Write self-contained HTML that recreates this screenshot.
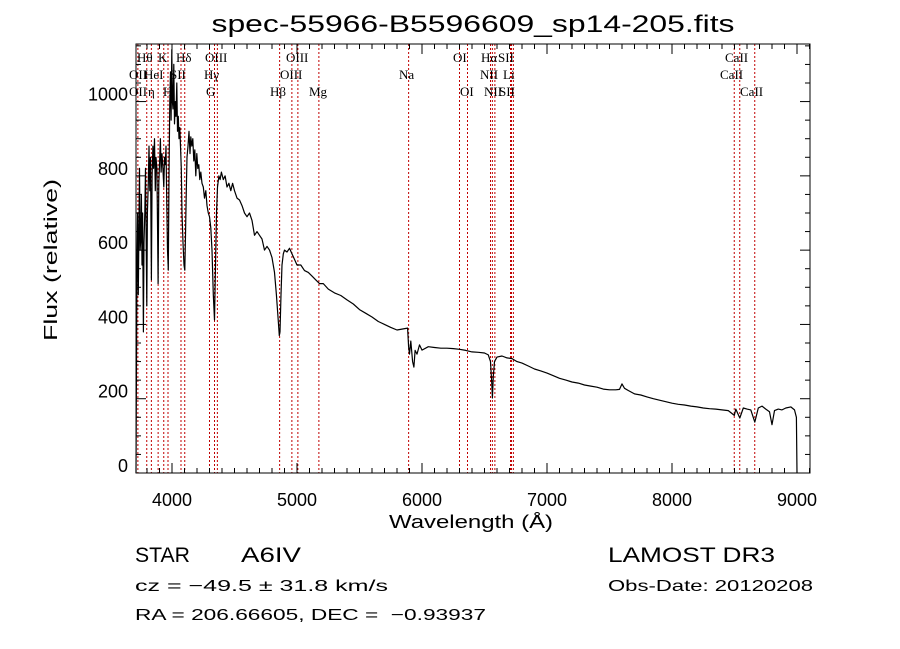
<!DOCTYPE html>
<html><head><meta charset="utf-8"><style>
html,body{margin:0;padding:0;background:#fff;}
svg{display:block;}
text{font-family:"Liberation Sans",sans-serif;fill:#000;white-space:pre;}
.ser{font-family:"Liberation Serif",serif;font-size:13px;}
</style></head><body>
<svg id="chart" width="900" height="649" viewBox="0 0 900 649" xmlns="http://www.w3.org/2000/svg" xml:space="preserve">
<rect width="900" height="649" fill="#fff"/>
<text x="473" y="32" font-size="24" text-anchor="middle" textLength="523" lengthAdjust="spacingAndGlyphs">spec-55966-B5596609_sp14-205.fits</text>
<g id="lines"></g>
<g id="labels">
<text class="ser" x="137" y="62">Hθ</text>
<text class="ser" x="158" y="62">K</text>
<text class="ser" x="176" y="62">Hδ</text>
<text class="ser" x="205" y="62">OIII</text>
<text class="ser" x="286" y="62">OIII</text>
<text class="ser" x="453" y="62">OI</text>
<text class="ser" x="481" y="62">Hα</text>
<text class="ser" x="498" y="62">SII</text>
<text class="ser" x="725" y="62">CaII</text>
<text class="ser" x="129" y="79">OII</text>
<text class="ser" x="144" y="79">HeI</text>
<text class="ser" x="170" y="79">SII</text>
<text class="ser" x="204" y="79">Hγ</text>
<text class="ser" x="280" y="79">OIII</text>
<text class="ser" x="399" y="79">Na</text>
<text class="ser" x="480" y="79">NII</text>
<text class="ser" x="503" y="79">Li</text>
<text class="ser" x="720" y="79">CaII</text>
<text class="ser" x="129" y="96">OII</text>
<text class="ser" x="148" y="96">η</text>
<text class="ser" x="163" y="96">H</text>
<text class="ser" x="206" y="96">G</text>
<text class="ser" x="270" y="96">Hβ</text>
<text class="ser" x="309" y="96">Mg</text>
<text class="ser" x="460" y="96">OI</text>
<text class="ser" x="484" y="96">NII</text>
<text class="ser" x="499" y="96">SII</text>
<text class="ser" x="740" y="96">CaII</text>
</g>
<path id="spec" fill="none" stroke="#000" stroke-width="1.2" stroke-linejoin="round"/>
<rect x="136" y="44" width="674" height="429" fill="none" stroke="#000" stroke-width="1"/>
<g id="ticks" stroke="#000" stroke-width="1"></g>
<g id="ticklabels"></g>
<text x="471" y="528" font-size="18" text-anchor="middle" textLength="164" lengthAdjust="spacingAndGlyphs">Wavelength (Å)</text>
<text transform="translate(57,260) rotate(-90)" font-size="18" text-anchor="middle" textLength="162" lengthAdjust="spacingAndGlyphs">Flux (relative)</text>
<text x="135" y="562" font-size="21" textLength="55" lengthAdjust="spacingAndGlyphs">STAR</text>
<text x="241" y="562" font-size="21" textLength="60" lengthAdjust="spacingAndGlyphs">A6IV</text>
<text x="608" y="562" font-size="21" textLength="167" lengthAdjust="spacingAndGlyphs">LAMOST DR3</text>
<text x="135" y="591" font-size="16" textLength="253" lengthAdjust="spacingAndGlyphs">cz = −49.5 ± 31.8 km/s</text>
<text x="608" y="591" font-size="16" textLength="205" lengthAdjust="spacingAndGlyphs">Obs-Date: 20120208</text>
<text x="135" y="620" font-size="16" textLength="351" lengthAdjust="spacingAndGlyphs">RA = 206.66605, DEC =  −0.93937</text>
</svg>
<script>
const wavelengths=[3712,3716,3720,3725,3730,3735,3740,3745,3750,3755,3760,3765,3771,3776,3782,3788,3793,3798,3803,3810,3816,3822,3828,3835,3841,3847,3853,3860,3866,3872,3879,3885,3889,3894,3900,3907,3913,3920,3927,3934,3940,3946,3952,3958,3964,3970,3976,3982,3988,3993,3998,4003,4008,4014,4020,4026,4032,4038,4044,4050,4056,4062,4068,4074,4080,4088,4096,4102,4108,4114,4120,4128,4136,4144,4150,4158,4166,4174,4182,4190,4198,4206,4214,4222,4230,4240,4250,4260,4270,4280,4290,4300,4310,4320,4330,4340,4348,4356,4364,4375,4385,4395,4410,4425,4440,4455,4470,4485,4500,4520,4540,4560,4580,4600,4620,4640,4660,4680,4700,4720,4740,4760,4780,4800,4820,4835,4848,4858,4864,4872,4880,4890,4900,4920,4940,4960,4980,5000,5030,5060,5090,5120,5150,5180,5210,5250,5300,5350,5400,5450,5500,5550,5600,5650,5700,5750,5800,5850,5885,5893,5900,5910,5925,5935,5945,5960,5980,6000,6050,6100,6150,6200,6250,6300,6350,6400,6450,6500,6530,6548,6558,6563,6570,6580,6600,6640,6680,6720,6760,6800,6850,6900,6950,7000,7050,7100,7150,7200,7250,7300,7350,7400,7450,7500,7550,7580,7600,7620,7650,7700,7750,7800,7850,7900,7950,8000,8050,8100,8150,8200,8250,8300,8350,8400,8450,8498,8510,8542,8570,8600,8630,8662,8690,8720,8750,8780,8800,8820,8850,8880,8910,8950,8980,8995,9000];
const fluxValues=[0,300,560,700,480,650,820,600,630,750,560,700,380,620,700,820,650,450,700,780,880,760,850,520,800,880,820,900,760,850,820,650,510,780,830,900,810,860,820,770,850,830,880,720,600,546,800,1000,1080,950,1140,1000,980,1100,940,1000,960,1050,920,960,900,930,880,820,700,620,560,546,640,760,850,880,920,860,905,880,900,840,870,800,860,820,830,790,810,780,770,740,760,720,700,690,660,600,480,412,560,700,770,800,790,810,790,800,770,780,760,780,760,740,735,720,700,690,700,680,640,650,640,630,600,610,600,580,540,480,420,370,380,480,560,590,600,595,605,590,575,560,560,545,540,530,520,510,510,495,485,478,466,455,440,430,420,408,400,392,385,388,390,340,320,355,300,285,330,320,345,331,340,338,336,336,335,333,330,326,325,323,318,300,240,202,260,300,312,315,310,308,300,296,288,280,275,269,262,255,250,245,242,237,234,231,226,224,224,225,240,228,222,213,210,205,200,196,192,188,185,183,180,178,175,173,172,170,168,155,172,148,175,172,170,137,175,180,172,165,130,168,172,170,175,178,170,150,0];
const lineWavelengths=[3727,3798,3835,3889,3934,3968,4072,4102,4300,4340,4363,4861,4959,5007,5175,5893,6300,6364,6548,6563,6583,6708,6716,6731,8498,8542,8662];
const xTickLabels=[4000,5000,6000,7000,8000,9000];
const yTickLabels=[0,200,400,600,800,1000];
const X0=136,X1=810,Y0=473,Y1=44,WMIN=3712,WMAX=9104,FMIN=0,FMAX=1155;
const xs=w=>X0+(w-WMIN)/(WMAX-WMIN)*(X1-X0);
const ys=f=>Y0-(f-FMIN)/(FMAX-FMIN)*(Y0-Y1);
const NS='http://www.w3.org/2000/svg';
let d='';
wavelengths.forEach((w,i)=>{const f=Math.min(fluxValues[i],FMAX);d+=(i?'L':'M')+xs(w).toFixed(1)+' '+ys(f).toFixed(1);});
document.getElementById('spec').setAttribute('d',d);
const lg=document.getElementById('lines');
lineWavelengths.forEach(w=>{
const l=document.createElementNS(NS,'line');


l.setAttribute('x1',xs(w));l.setAttribute('x2',xs(w));l.setAttribute('y1',Y1);l.setAttribute('y2',Y0);
l.setAttribute('stroke','#c00000');l.setAttribute('stroke-width','1');l.setAttribute('stroke-dasharray','2,2');
lg.appendChild(l);});
const tg=document.getElementById('ticks'),tl=document.getElementById('ticklabels');
function tick(x1,y1,x2,y2){const l=document.createElementNS(NS,'line');


l.setAttribute('x1',x1);l.setAttribute('y1',y1);l.setAttribute('x2',x2);l.setAttribute('y2',y2);tg.appendChild(l);}
for(let w=3800;w<=9100;w+=100){const x=xs(w);const L=(w%1000===0)?10:5;tick(x,Y0,x,Y0-L);tick(x,Y1,x,Y1+L);}
for(let f=0;f<=1150;f+=50){const y=ys(f);const L=(f%200===0)?10:5;tick(X0,y,X0+L,y);tick(X1,y,X1-L,y);}
xTickLabels.forEach(v=>{const t=document.createElementNS(NS,'text');


t.setAttribute('x',xs(v));t.setAttribute('y',Y0+33);t.setAttribute('font-size','18');t.setAttribute('text-anchor','middle');t.textContent=v;tl.appendChild(t);});
yTickLabels.forEach(v=>{const t=document.createElementNS(NS,'text');


t.setAttribute('x',X0-8);t.setAttribute('y',ys(v)-1);t.setAttribute('font-size','18');t.setAttribute('text-anchor','end');t.textContent=v;tl.appendChild(t);});
</script>
</body></html>
